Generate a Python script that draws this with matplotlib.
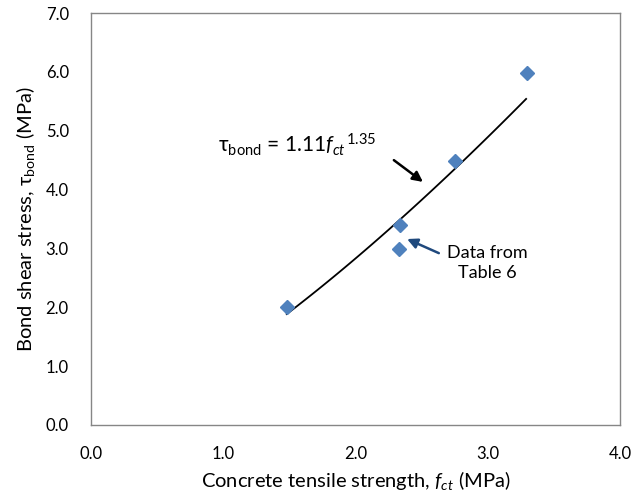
import numpy as np
import matplotlib
matplotlib.use("Agg")
import matplotlib.pyplot as plt

plt.rcParams.update({
    'font.family': ['Lato', 'DejaVu Sans'],
    'mathtext.fontset': 'custom',
    'mathtext.rm': 'Lato',
    'mathtext.it': 'Lato:italic',
    'mathtext.bf': 'Lato:bold',
})

# === Data ===
fct = [1.48, 2.34, 2.33, 2.75, 3.30]
tau = [2.00, 3.39, 2.99, 4.49, 5.98]

# power fit shown on chart: tau = a * fct^b
fit_a = 1.11
fit_b = 1.35
fit_range = (1.48, 3.29)

xticks = [0.0, 1.0, 2.0, 3.0, 4.0]
yticks = [0.0, 1.0, 2.0, 3.0, 4.0, 5.0, 6.0, 7.0]

fig = plt.figure(figsize=(6.35, 4.97), dpi=100)
ax = fig.add_axes([0.1433, 0.1449, 0.8331, 0.8289])

xs = np.linspace(fit_range[0], fit_range[1], 100)
ax.plot(xs, fit_a * xs ** fit_b, color='black', linewidth=1.3, zorder=2)
ax.plot(fct, tau, linestyle='none', marker='D', markersize=7,
        color='#4F81BD', markeredgecolor='#4F81BD', zorder=3)

ax.set_xlim(0, 4)
ax.set_ylim(0, 7)
ax.set_xticks(xticks)
ax.set_yticks(yticks)
ax.set_xticklabels([f"{v:.1f}" for v in xticks])
ax.set_yticklabels([f"{v:.1f}" for v in yticks])
ax.tick_params(length=0, labelsize=12, colors='black')
ax.tick_params(axis='x', pad=15)
ax.tick_params(axis='y', pad=16)
for s in ax.spines.values():
    s.set_color('#868686')
    s.set_linewidth(1.0)

ax.set_xlabel(r"Concrete tensile strength, $f_{ct}$ (MPa)", fontsize=14.5, labelpad=5)
ax.set_ylabel(r"Bond shear stress, $\mathrm{\tau}_{\mathrm{bond}}$ (MPa)", fontsize=14.5, labelpad=6)

# equation annotation
ax.text(0.96, 4.64, r"$\mathrm{\tau}_{\mathrm{bond}}$ = 1.11$f_{ct}$$^{\,1.35}$",
        fontsize=15, ha='left', va='baseline')
ax.annotate("", xy=(2.51, 4.13), xytext=(2.29, 4.50),
            arrowprops=dict(arrowstyle='-|>', color='black', lw=1.8,
                            mutation_scale=15, shrinkA=0, shrinkB=0))

# data label
ax.text(2.69, 2.76, "Data from\nTable 6", fontsize=13, ha='left', va='center',
        multialignment='center', linespacing=1.3)
ax.annotate("", xy=(2.39, 3.16), xytext=(2.63, 2.92),
            arrowprops=dict(arrowstyle='-|>', color='#1F497D', lw=1.8,
                            mutation_scale=15, shrinkA=0, shrinkB=0))

fig.savefig("out.png", dpi=100)
